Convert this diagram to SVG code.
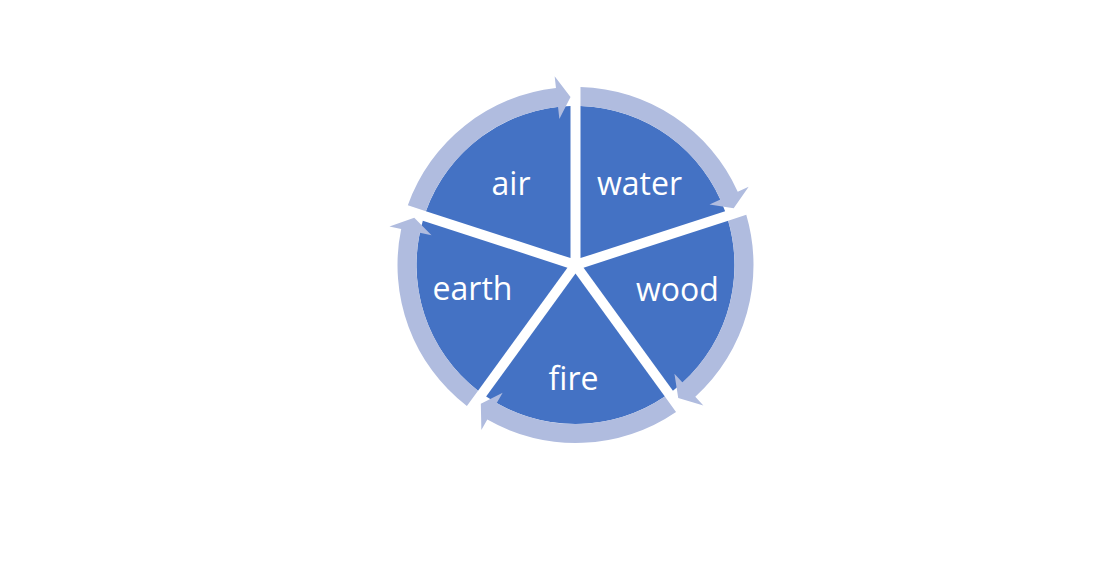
<svg xmlns="http://www.w3.org/2000/svg" width="1114" height="586" viewBox="0 0 1114 586">
  <style>
    .seg { fill: #4472C4; }
    .lbl { fill: #FFFFFF; font-family: "Open Sans", "Noto Sans", "Liberation Sans", sans-serif; font-size: 32px; text-anchor: middle; }
    .arr { fill: #B0BCDF; }
  </style>
  <rect x="0" y="0" width="1114" height="586" fill="#FFFFFF"/>
  <g id="node-water">
    <path class="seg" d="M580.50,258.12 L580.49,106.08 A159 159 0 0 1 725.10,211.14 Z"/>
    <text class="lbl" x="639.5" y="195">water</text>
  </g>
  <g id="node-wood">
    <path class="seg" d="M583.58,267.63 L728.19,220.64 A159 159 0 0 1 672.95,390.64 Z"/>
    <text class="lbl" x="677.5" y="301">wood</text>
  </g>
  <g id="node-fire">
    <path class="seg" d="M575.5,273.5 L664.87,396.51 A159 159 0 0 1 486.13,396.51 Z"/>
    <text class="lbl" x="573.5" y="390">fire</text>
  </g>
  <g id="node-earth">
    <path class="seg" d="M567.42,267.63 L478.05,390.64 A159 159 0 0 1 422.81,220.64 Z"/>
    <text class="lbl" x="472.5" y="300">earth</text>
  </g>
  <g id="node-air">
    <path class="seg" d="M570.50,258.12 L425.90,211.14 A159 159 0 0 1 570.51,106.08 Z"/>
    <text class="lbl" x="511" y="195">air</text>
  </g>
  <g id="connectors">
    <path class="arr" d="M580.50,87.07 A178 178 0 0 1 737.73,191.75 L748.67,186.81 L733.67,208.37 L709.48,204.51 L720.41,199.57 A159 159 0 0 0 580.49,106.08 Z"/>
    <path class="arr" d="M746.27,214.78 A178 178 0 0 1 695.30,396.65 L703.37,405.53 L678.24,397.92 L674.43,373.73 L682.51,382.60 A159 159 0 0 0 728.19,220.64 Z"/>
    <path class="arr" d="M676.03,411.90 A178 178 0 0 1 487.31,419.61 L481.36,430.04 L480.83,403.78 L502.67,392.69 L496.72,403.11 A159 159 0 0 0 664.87,396.51 Z"/>
    <path class="arr" d="M466.87,406.01 A178 178 0 0 1 401.20,228.91 L389.45,226.47 L414.25,217.85 L431.55,235.19 L419.80,232.76 A159 159 0 0 0 478.05,390.64 Z"/>
    <path class="arr" d="M407.83,205.24 A178 178 0 0 1 555.97,88.08 L554.65,76.15 L570.52,97.07 L559.37,118.89 L558.05,106.96 A159 159 0 0 0 425.90,211.14 Z"/>
  </g>
</svg>
